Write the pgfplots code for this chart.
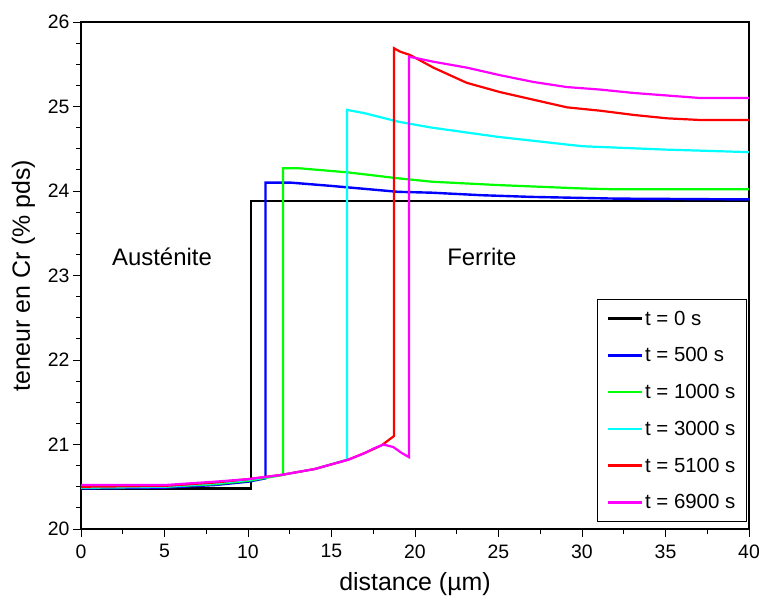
\documentclass[border=0pt]{standalone}
\usepackage{pgfplots}
\pgfplotsset{compat=1.18}
\usepackage{fontspec}
\setmainfont{Liberation Sans}
\definecolor{cBlack}{RGB}{0,0,0}
\definecolor{cBlue}{RGB}{0,0,255}
\definecolor{cGreen}{RGB}{0,255,0}
\definecolor{cCyan}{RGB}{0,255,255}
\definecolor{cRed}{RGB}{255,0,0}
\definecolor{cMagenta}{RGB}{255,0,255}
\begin{document}
\begin{tikzpicture}
\begin{axis}[
  scale only axis,
  width=668bp, height=507bp,
  xmin=0, xmax=40, ymin=20, ymax=26,
  xtick={0,5,...,40}, ytick={20,21,...,26},
  minor x tick num=1, minor y tick num=3,
  tick align=outside,
  major tick length=8bp, minor tick length=5bp,
  tick style={black, line width=0.8bp},
  axis line style={black, line width=1.3bp},
  xtick pos=bottom, ytick pos=left,
  /pgf/number format/assume math mode=true,
  ticklabel style={font=\fontsize{19.5}{22}\selectfont},
  xticklabel style={yshift=-4bp},
  xlabel={distance (µm)},
  ylabel={teneur en Cr (\% pds)},
  label style={font=\fontsize{25}{28}\selectfont},
  xlabel style={yshift=-7bp},
  ylabel style={yshift=6bp},
  legend style={at={(rel axis cs:0.997,0.014)}, anchor=south east,
    draw=black, line width=1.3bp, font=\fontsize{20.5}{23}\selectfont,
    row sep=17bp, inner xsep=9bp, inner ysep=9bp},
  legend cell align=left,
  legend image code/.code={\draw[#1, line width=2.4bp] (0bp,0bp) -- (34bp,0bp);},
]
\addplot[color=cBlack, line width=2.2bp, no marks, sharp plot] coordinates {(0,20.48)(10.2,20.48)(10.2,23.88)(40,23.88)};
\addlegendentry{t = 0 s}
\addplot[color=cBlue, line width=2.4bp, no marks, sharp plot] coordinates {(0,20.48)(5,20.49)(8,20.52)(10,20.56)(11.05,20.6)(11.05,24.1)(12.5,24.1)(15,24.06)(19,23.99)(21,23.98)(24,23.95)(27,23.93)(32,23.91)(40,23.9)};
\addlegendentry{t = 500 s}
\addplot[color=cGreen, line width=2.2bp, no marks, sharp plot] coordinates {(0,20.49)(5,20.5)(8,20.53)(10,20.57)(12.1,20.64)(12.1,24.27)(13,24.27)(16,24.22)(19,24.15)(21,24.11)(25,24.07)(30,24.03)(32,24.02)(40,24.02)};
\addlegendentry{t = 1000 s}
\addplot[color=cCyan, line width=2.2bp, no marks, sharp plot] coordinates {(0,20.49)(5,20.5)(8,20.54)(10,20.58)(12,20.64)(14,20.71)(15.93,20.82)(15.93,24.96)(17,24.92)(19,24.82)(21,24.75)(25,24.64)(30,24.53)(35,24.49)(40,24.46)};
\addlegendentry{t = 3000 s}
\addplot[color=cRed, line width=2.2bp, no marks, sharp plot] coordinates {(0,20.5)(5,20.51)(8,20.55)(10,20.59)(12,20.64)(14,20.71)(16,20.82)(17,20.9)(18,20.99)(18.74,21.1)(18.74,25.69)(19.1,25.65)(19.7,25.61)(21.1,25.46)(23.1,25.28)(25.1,25.17)(27.1,25.08)(29.1,24.99)(31.1,24.95)(33.1,24.9)(35.1,24.86)(37.1,24.84)(40,24.84)};
\addlegendentry{t = 5100 s}
\addplot[color=cMagenta, line width=2.2bp, no marks, sharp plot] coordinates {(0,20.52)(5,20.52)(8,20.56)(10,20.59)(12,20.64)(14,20.71)(16,20.82)(17,20.9)(17.5,20.95)(18.1,21.0)(18.7,20.97)(19.2,20.9)(19.64,20.85)(19.64,25.59)(21.1,25.53)(23.1,25.46)(25.1,25.37)(27.1,25.29)(29.1,25.23)(31.1,25.2)(33.1,25.16)(35.1,25.13)(37.1,25.1)(40,25.1)};
\addlegendentry{t = 6900 s}
\node[font=\fontsize{24}{28}\selectfont] at (axis cs:4.85,23.22) {Austénite};
\node[font=\fontsize{24}{28}\selectfont] at (axis cs:24.0,23.22) {Ferrite};
\end{axis}
\pgfresetboundingbox
\path (current axis.south west) ++(-81bp,-74bp) rectangle ++(759bp,603bp);
\end{tikzpicture}
\end{document}
